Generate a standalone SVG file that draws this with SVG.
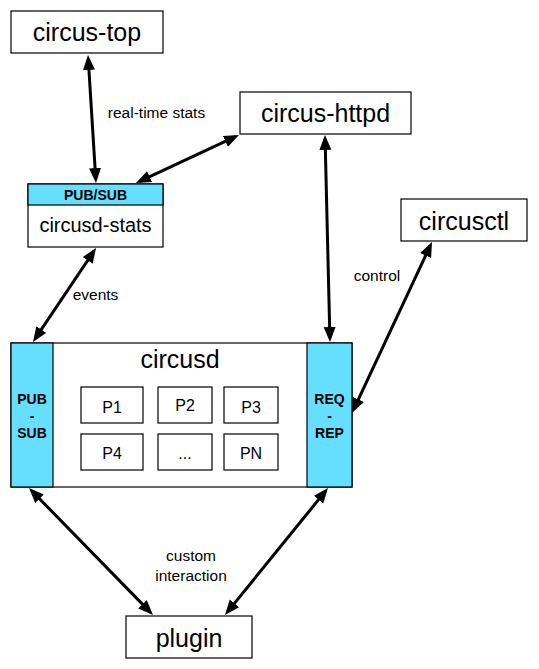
<svg xmlns="http://www.w3.org/2000/svg" width="539" height="669" viewBox="0 0 539 669">
<style>
  .box { fill: #ffffff; stroke: #000000; stroke-width: 1.2; }
  .band { fill: #66dfff; stroke: #000000; stroke-width: 1.2; }
  .big { font-family: "Liberation Sans", Arial, sans-serif; font-size: 25px; fill: #000; text-anchor: middle; }
  .mid { font-family: "Liberation Sans", Arial, sans-serif; font-size: 20px; fill: #000; text-anchor: middle; }
  .p { font-family: "Liberation Sans", Arial, sans-serif; font-size: 16px; fill: #000; text-anchor: middle; }
  .bold { font-family: "Liberation Sans", Arial, sans-serif; font-size: 14px; font-weight: bold; fill: #000; text-anchor: middle; }
  .lbl { font-family: "Liberation Sans", Arial, sans-serif; font-size: 15.5px; fill: #000; text-anchor: middle; }
  .conn { stroke: #000; stroke-width: 3; fill: none; marker-start: url(#ah); marker-end: url(#ah); }
</style>
<defs>
  <marker id="ah" markerUnits="userSpaceOnUse" markerWidth="16" markerHeight="13" refX="11" refY="6" orient="auto-start-reverse" viewBox="0 0 16 13">
    <path d="M0,0 L15,6 L0,12 z" fill="#000"/>
  </marker>
</defs>
<rect width="539" height="669" fill="#ffffff"/>

<g id="circus-top">
  <rect class="box" x="11" y="11" width="152" height="42"/>
  <text class="big" x="87" y="41">circus-top</text>
</g>

<g id="circus-httpd">
  <rect class="box" x="240" y="92" width="171" height="42"/>
  <text class="big" x="325.5" y="122">circus-httpd</text>
</g>

<g id="circusd-stats">
  <rect class="box" x="28" y="184" width="135" height="63"/>
  <rect class="band" x="28" y="184" width="135" height="21"/>
  <text class="bold" x="95.5" y="200">PUB/SUB</text>
  <text class="mid" x="95.5" y="232">circusd-stats</text>
</g>

<g id="circusctl">
  <rect class="box" x="401" y="199" width="126" height="42"/>
  <text class="big" x="464" y="230">circusctl</text>
</g>

<g id="circusd">
  <rect class="box" x="11" y="343" width="341" height="144"/>
  <rect class="band" x="11" y="343" width="42" height="144"/>
  <rect class="band" x="307" y="343" width="45" height="144"/>
  <text class="big" x="180" y="368">circusd</text>
  <text class="bold" x="32" y="404">PUB</text>
  <text class="bold" x="32" y="421">-</text>
  <text class="bold" x="32" y="438">SUB</text>
  <text class="bold" x="329.5" y="404">REQ</text>
  <text class="bold" x="329.5" y="421">-</text>
  <text class="bold" x="329.5" y="438">REP</text>
</g>

<g id="p1"><rect class="box" x="81" y="387" width="62" height="36"/><text class="p" x="112" y="413">P1</text></g>
<g id="p2"><rect class="box" x="158" y="387" width="54" height="36"/><text class="p" x="185" y="411">P2</text></g>
<g id="p3"><rect class="box" x="224" y="387" width="54" height="36"/><text class="p" x="251" y="413">P3</text></g>
<g id="p4"><rect class="box" x="81" y="434" width="62" height="36"/><text class="p" x="112" y="459">P4</text></g>
<g id="pdots"><rect class="box" x="158" y="434" width="54" height="36"/><text class="p" x="185" y="459">...</text></g>
<g id="pn"><rect class="box" x="224" y="434" width="54" height="36"/><text class="p" x="251" y="459">PN</text></g>

<g id="plugin">
  <rect class="box" x="126" y="616" width="126" height="42"/>
  <text class="big" x="189" y="647">plugin</text>
</g>

<g id="connectors">
  <path class="conn" d="M88.25,59 L95.75,179"/>
  <path class="conn" d="M139.6,181.3 L235.4,136.7"/>
  <path class="conn" d="M93.8,251.3 L35.2,338.7"/>
  <path class="conn" d="M325.1,139 L329.9,338"/>
  <path class="conn" d="M430.3,245.6 L353.7,409.4"/>
  <path class="conn" d="M31.8,490.9 L150.2,612.1"/>
  <path class="conn" d="M325.5,491.1 L227.5,611.9"/>
  <text class="lbl" x="156.5" y="118">real-time stats</text>
  <text class="lbl" x="377" y="281">control</text>
  <text class="lbl" x="95.5" y="300">events</text>
  <text class="lbl" x="191" y="561">custom</text>
  <text class="lbl" x="191" y="581">interaction</text>
</g>
</svg>
